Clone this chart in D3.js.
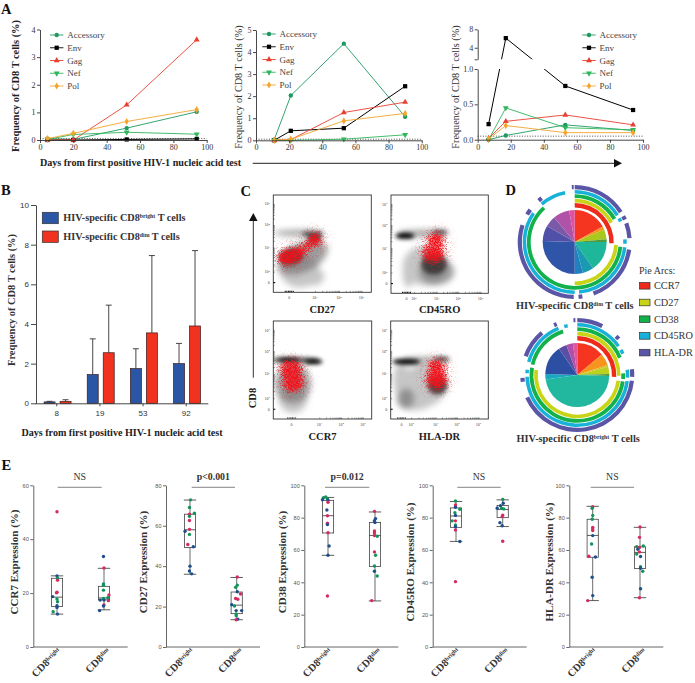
<!DOCTYPE html>
<html>
<head>
<meta charset="utf-8">
<script src="https://d3js.org/d3.v7.min.js"></script>
<style>
  html, body { margin: 0; padding: 0; background: #fff; }
  svg { display: block; }
  text { font-family: "Liberation Serif", serif; fill: #222; }
</style>
</head>
<body>
<script>
// --- panel A
var seriesNames = ["Accessory", "Env", "Gag", "Nef", "Pol"];
var daysA1 = [4.5, 20, 52, 94];
var daysA2 = [11, 21, 53, 90];
var daysA3 = [6.6, 17, 53, 94];
var valuesA1 = [
  [0.05, 0.02, 0.43, 1.02],
  [0, 0, 0.02, 0.04],
  [0, 0, 1.27, 3.63],
  [0.02, 0.2, 0.28, 0.21],
  [0.05, 0.24, 0.67, 1.1]
];
var valuesA2 = [
  [0.03, 2.03, 4.38, 1.07],
  [0, 0.43, 0.55, 2.45],
  [0, 0.03, 1.26, 1.73],
  [0, 0, 0.05, 0.25],
  [0, 0.05, 0.88, 1.22]
];
var valuesA3 = [
  [0, 0.06, 0.21, 0.13],
  [0.22, 6.1, 0.76, 0.42],
  [0.02, 0.26, 0.35, 0.21],
  [0, 0.45, 0.17, 0.14],
  [0.01, 0.2, 0.1, 0.1]
];

// --- panel B
var daysB = ["8", "19", "53", "92"];
var brightMean = [0.07, 1.45, 1.75, 2.0];
var brightUpper = [0.1, 3.25, 2.75, 3.02];
var dimMean = [0.1, 2.55, 3.55, 3.9];
var dimUpper = [0.18, 4.95, 7.45, 7.7];

// --- panel C, density blobs: x, y, rx, ry, tilt, tone (fractions of the plot frame)
var blobsCD27 = [
  [0.27, 0.22, 0.2, 0.17, 0, "light"], [0.4, 0.16, 0.12, 0.09, 0, "light"], [0.3, 0.36, 0.27, 0.15, -25, "mid"],
  [0.26, 0.61, 0.26, 0.03, 0, "mid"], [0.4, 0.6, 0.11, 0.025, 0, "dark"], [0.42, 0.56, 0.07, 0.05, 0, "dark"],
  [0.18, 0.37, 0.12, 0.08, -10, "dark"],
  [0.17, 0.366, 0.14, 0.09, -10, "red"], [0.3, 0.44, 0.1, 0.05, -30, "red"], [0.425, 0.54, 0.075, 0.085, 0, "red"]
];
var blobsCD45RO = [
  [0.18, 0.2, 0.06, 0.14, 0, "light"], [0.35, 0.28, 0.23, 0.2, 0, "light"], [0.47, 0.22, 0.18, 0.13, 0, "mid"],
  [0.33, 0.61, 0.26, 0.035, 0, "mid"], [0.5, 0.62, 0.08, 0.025, 0, "dark"], [0.144, 0.585, 0.1, 0.03, 0, "black"],
  [0.44, 0.3, 0.13, 0.11, 0, "dark"],
  [0.435, 0.4, 0.12, 0.1, 0, "red"], [0.46, 0.54, 0.1, 0.08, 0, "red"]
];
var blobsCCR7 = [
  [0.2, 0.2, 0.14, 0.14, 0, "light"], [0.2, 0.36, 0.18, 0.2, 0, "mid"],
  [0.22, 0.6, 0.25, 0.03, 0, "dark"], [0.41, 0.585, 0.09, 0.025, 0, "black"], [0.15, 0.605, 0.11, 0.018, 0, "black"],
  [0.2, 0.38, 0.12, 0.11, 0, "red"], [0.18, 0.52, 0.12, 0.085, 0, "red"]
];
var blobsHLADR = [
  [0.25, 0.2, 0.19, 0.11, 0, "light"], [0.35, 0.35, 0.22, 0.22, 0, "light"], [0.11, 0.4, 0.08, 0.18, 0, "light"],
  [0.16, 0.21, 0.08, 0.1, 0, "mid"], [0.36, 0.6, 0.24, 0.03, 0, "mid"], [0.52, 0.61, 0.08, 0.025, 0, "dark"],
  [0.16, 0.585, 0.14, 0.03, 0, "black"], [0.48, 0.34, 0.1, 0.09, 0, "dark"],
  [0.47, 0.4, 0.12, 0.1, 0, "red"], [0.47, 0.53, 0.1, 0.08, 0, "red"]
];

// --- panel D, slices in degrees and arcs as [from, to] degrees clockwise from the top
var sliceColors1 = ["#f5351f", "#f7941d", "#a8c81e", "#4f9a3c", "#1fb79a", "#1a9ab0", "#2080c0", "#2e55a8", "#5050a8", "#7a5aa8", "#b052a8", "#e0509f"];
var sliceValues1 = [61, 6, 18, 5, 55, 20, 15, 92, 28, 20, 30, 10];
var sliceColors2 = ["#f5351f", "#f7941d", "#d8c020", "#bcd020", "#4f9a3c", "#22b8a0", "#18a8c0", "#2d4fa3", "#5a4fa3", "#b24fa8", "#e2559f"];
var sliceValues2 = [50, 22, 3, 13, 4, 170, 10, 53, 15, 12, 8];
var arcNames = ["CCR7", "CD27", "CD38", "CD45RO", "HLA-DR"];
var arcs1 = [
  [[0, 92]],
  [[0, 62], [94, 180]],
  [[0, 60], [96, 318]],
  [[0, 58], [62, 66], [87, 92], [96, 175], [180, 305], [319, 349]],
  [[0, 57], [62, 66], [70, 86], [98, 160], [172, 176], [181, 288], [300, 306], [319, 323], [357, 359]]
];
var arcs2 = [
  [[0, 93]],
  [[0, 91], [98, 277]],
  [[0, 68], [88, 95], [98, 279], [283, 342]],
  [[0, 55], [60, 65], [84, 93], [97, 268], [272, 276], [285, 338], [345, 349]],
  [[0, 27], [45, 49], [84, 92], [96, 246], [263, 267], [290, 320], [335, 338], [356, 358]]
];

// --- panel E, boxes: whisker low, q1, median, q3, whisker high
var markers = ["CCR7", "CD27", "CD38", "CD45RO", "HLA-DR"];
var notes = ["NS", "p<0.001", "p=0.012", "NS", "NS"];
var domainsE = [60, 80, 100, 100, 100];
var ticksE = [[0, 20, 40, 60], [0, 20, 40, 60, 80], [0, 20, 40, 60, 80, 100], [0, 20, 40, 60, 80, 100], [0, 20, 40, 60, 80, 100]];
var boxesBright = [
  [12.2, 15, 18.5, 25.5, 26.4],
  [36, 49.2, 58, 65.7, 72.7],
  [56.7, 70.5, 81.2, 90.7, 92.5],
  [65.3, 74, 81, 86, 90],
  [28.7, 55.5, 69, 79, 87]
];
var boxesDim = [
  [13.8, 17.5, 18.2, 22.5, 29.2],
  [13.5, 16.5, 20.7, 27.2, 34.4],
  [28.5, 49.8, 69, 77, 83.5],
  [74.5, 80, 85, 87.5, 91],
  [30.5, 48.5, 58.5, 62, 74]
];
// points: jitter, value, donor group
var pointsBright = [
  [[0, 50.2, "r"], [0, 26.4, "b"], [0.1, 25.5, "g"], [0.1, 24.8, "r"], [0, 20.3, "r"], [-0.1, 20.1, "r"], [-0.8, 18.7, "b"], [0, 17.8, "g"], [0.1, 16.8, "g"], [0, 15.3, "b"], [0, 14.7, "b"], [-0.7, 13.1, "g"], [0.1, 12.2, "b"]],
  [[0.1, 72.8, "g"], [-0.1, 69, "g"], [0.8, 66.2, "g"], [-0.1, 65.7, "r"], [-0.1, 64.7, "g"], [-0.1, 62.6, "r"], [-0.1, 58.2, "r"], [-0.9, 57.3, "b"], [-0.1, 55.7, "g"], [-0.4, 50.7, "r"], [0.6, 49.6, "b"], [0, 40, "b"], [-0.1, 37.6, "b"], [0.3, 36.2, "b"]],
  [[-0.4, 92.8, "g"], [-0.8, 92.4, "g"], [-0.1, 91.5, "g"], [-1, 91.1, "b"], [0, 90.8, "b"], [0, 89.5, "r"], [-0.2, 84.7, "b"], [-0.1, 81.2, "r"], [-0.1, 76.5, "r"], [-0.1, 75.7, "b"], [0, 70.7, "r"], [0.2, 62.5, "b"], [0, 56.7, "b"], [-0.1, 31.5, "r"]],
  [[-0.1, 90.3, "g"], [-0.1, 87.8, "r"], [-0.1, 86.4, "b"], [0.7, 85.2, "g"], [-0.2, 83, "g"], [-0.1, 81.4, "b"], [-0.7, 78, "g"], [-0.1, 78, "r"], [-0.1, 75.5, "g"], [-0.1, 74.4, "b"], [-0.1, 72.4, "r"], [0.7, 65.2, "b"], [-0.1, 40.4, "r"]],
  [[0, 86.8, "r"], [-0.1, 85.8, "g"], [0, 81.4, "g"], [-0.1, 79, "g"], [0, 74, "r"], [0, 73, "r"], [0, 72, "r"], [0, 68.9, "b"], [-0.2, 63.7, "g"], [-0.7, 56.1, "r"], [0.5, 55.7, "b"], [-0.1, 43.1, "b"], [0, 31.8, "b"], [-0.9, 28.7, "r"]]
];
var pointsDim = [
  [[-0.1, 33.6, "b"], [0, 29.3, "r"], [-0.1, 23.4, "g"], [-0.1, 22.9, "g"], [-0.1, 21.1, "g"], [0.9, 19.3, "r"], [0.7, 18.3, "g"], [-0.1, 18, "g"], [-0.7, 17.4, "b"], [0, 17.4, "b"], [0.8, 17.2, "r"], [0, 15.6, "r"], [-0.1, 15.2, "b"], [-0.8, 13.5, "b"]],
  [[0.1, 34.6, "r"], [0.1, 30.6, "g"], [-0.2, 29.5, "g"], [0.1, 27.3, "b"], [0.7, 26.2, "r"], [-0.2, 24, "r"], [0.2, 23.6, "r"], [-0.9, 20.9, "b"], [-0.4, 20.3, "g"], [-0.1, 18, "b"], [0.9, 18, "b"], [-0.1, 16.3, "g"], [-0.1, 15.5, "g"], [0.2, 13.8, "b"], [-0.1, 13.5, "r"]],
  [[-0.1, 83.9, "r"], [0.1, 79.4, "b"], [-0.1, 78.1, "b"], [0, 77, "b"], [-0.1, 71.8, "r"], [-0.1, 70.5, "r"], [-0.1, 69, "r"], [0.4, 68.5, "g"], [-0.1, 58.8, "r"], [0.1, 56.7, "g"], [-0.1, 50.1, "g"], [-0.1, 46.8, "b"], [0.4, 43.9, "g"], [-0.6, 28.7, "r"]],
  [[0, 91.3, "g"], [0.1, 88.9, "b"], [-0.4, 87.4, "b"], [-1, 85.8, "b"], [-0.2, 85.8, "g"], [0.2, 85.4, "g"], [0, 81.5, "r"], [-0.1, 80.6, "r"], [-0.5, 76.9, "b"], [-0.1, 75, "b"], [0, 65.4, "r"]],
  [[0, 74.2, "r"], [-0.1, 67.8, "r"], [-0.6, 62, "g"], [0.6, 62.5, "g"], [-0.1, 61.6, "r"], [-0.4, 60.4, "b"], [-0.6, 57.5, "g"], [-0.1, 58.8, "r"], [0.1, 56, "b"], [0.1, 49.7, "g"], [0.1, 48.7, "b"], [0.5, 46.8, "g"], [0.1, 36, "b"], [-0.1, 30.5, "r"]]
];

var lineColors = { Accessory: "#1d9a60", Env: "#000", Gag: "#e8402f", Nef: "#2fb65c", Pol: "#f5a52c" };
var lineSymbols = { Accessory: d3.symbolCircle, Env: d3.symbolSquare, Gag: d3.symbolTriangle, Nef: d3.symbolTriangle, Pol: d3.symbolDiamond };
var arcColors = { "CCR7": "#ee2a1b", "CD27": "#c9d416", "CD38": "#12b14b", "CD45RO": "#18b1d8", "HLA-DR": "#5b55a5" };
var donorColors = { r: "#d52a5e", b: "#1f4e8c", g: "#12935a" };

var svg = d3.select("body").append("svg").
  attr("width", 695).
  attr("height", 683);

var defs = svg.append("defs");

function label(sel, str, x, y, size, opts) {
  opts = opts || {};
  return sel.append("text").
    attr("x", x).attr("y", y).
    attr("font-size", size).
    attr("text-anchor", opts.anchor || "middle").
    attr("font-weight", opts.bold ? "bold" : null).
    style("fill", opts.fill || "#222").
    attr("transform", opts.rotate ? "rotate(" + opts.rotate + " " + x + " " + y + ")" : null).
    text(str);
}

function sup(textSel, str, size, tail, tailSize) {
  textSel.append("tspan").attr("font-size", size).attr("dy", -size * 0.55).text(str);
  if (tail) textSel.append("tspan").attr("font-size", tailSize).attr("dy", size * 0.55).text(tail);
}

function styleAxis(g, color, fontSize, family) {
  g.selectAll("path,line").attr("stroke", color).attr("stroke-width", 0.9);
  g.selectAll("text").attr("font-size", fontSize).style("fill", color).style("font-family", family);
}

// ---------- A
function drawLines(g, days, values, x, y) {
  var line = d3.line().
    x(function(d) { return x(d[0]); }).
    y(function(d) { return y(d[1]); });
  values.forEach(function(vals, i) {
    var name = seriesNames[i];
    var pts = vals.map(function(v, j) { return [days[j], v]; });
    g.append("path").
      attr("d", line(pts)).
      attr("fill", "none").
      attr("stroke", lineColors[name]).
      attr("stroke-width", name === "Env" ? 1 : 0.9);
    g.selectAll(null).data(pts).enter().append("path").
      attr("d", d3.symbol().type(lineSymbols[name]).size(name === "Env" ? 18 : 15)).
      attr("fill", lineColors[name]).
      attr("transform", function(d) {
        return "translate(" + x(d[0]) + "," + y(d[1]) + ")" + (name === "Nef" ? " rotate(180)" : "");
      });
  });
}

function drawLegend(x0, yTop, step) {
  seriesNames.forEach(function(name, i) {
    var yy = yTop + i * step;
    svg.append("line").
      attr("x1", x0).attr("x2", x0 + 13.4).attr("y1", yy).attr("y2", yy).
      attr("stroke", lineColors[name]).attr("stroke-width", 0.9);
    svg.append("path").
      attr("d", d3.symbol().type(lineSymbols[name]).size(name === "Env" ? 18 : 15)).
      attr("fill", lineColors[name]).
      attr("transform", "translate(" + (x0 + 6.7) + "," + yy + ")" + (name === "Nef" ? " rotate(180)" : ""));
    label(svg, name, x0 + 17.3, yy + 3, 9, { anchor: "start", fill: "#444" });
  });
}

function dotted(xa, xb, yy) {
  svg.append("line").
    attr("x1", xa).attr("x2", xb).attr("y1", yy).attr("y2", yy).
    attr("stroke", "#222").attr("stroke-width", 0.8).attr("stroke-dasharray", "1,1.6");
}

function chartA(left, right, top, bottom, maxY, yTicks, days, values) {
  var x = d3.scaleLinear().domain([0, 100]).range([left, right]);
  var y = d3.scaleLinear().domain([0, maxY]).range([bottom, top]);
  dotted(left, right, y(0.05));
  drawLines(svg.append("g"), days, values, x, y);
  var gx = svg.append("g").attr("transform", "translate(0," + bottom + ")").
    call(d3.axisBottom(x).tickValues([0, 20, 40, 60, 80, 100]).tickSize(3).tickSizeOuter(0).tickPadding(1.5));
  styleAxis(gx, "#333", 8, "Liberation Serif");
  var gy = svg.append("g").attr("transform", "translate(" + left + ",0)").
    call(d3.axisLeft(y).tickValues(yTicks).tickSize(3).tickSizeOuter(0).tickPadding(1.5).tickFormat(d3.format("d")));
  styleAxis(gy, "#333", 8, "Liberation Serif");
}

chartA(40, 206.7, 29.5, 140, 4, [0, 1, 2, 3, 4], daysA1, valuesA1);
chartA(256, 421.7, 30, 140.3, 5, [0, 1, 2, 3, 4, 5], daysA2, valuesA2);
drawLegend(50, 35, 12.75);
drawLegend(262.3, 34, 12.75);

// A3 has a broken y axis
var xA3 = d3.scaleLinear().domain([0, 100]).range([477.7, 643]);
var yA3 = d3.scaleLinear().domain([0, 1, 1.5, 8]).range([139.7, 69, 59.3, 29.3]);
defs.append("clipPath").attr("id", "a3low").append("rect").attr("x", 470).attr("y", 69).attr("width", 190).attr("height", 80);
defs.append("clipPath").attr("id", "a3high").append("rect").attr("x", 470).attr("y", 20).attr("width", 190).attr("height", 39.3);
dotted(477.7, 643, yA3(0.05));
drawLines(svg.append("g").attr("clip-path", "url(#a3low)"), daysA3, valuesA3, xA3, yA3);
drawLines(svg.append("g").attr("clip-path", "url(#a3high)"), daysA3, valuesA3, xA3, yA3);
var gxA3 = svg.append("g").attr("transform", "translate(0,139.7)").
  call(d3.axisBottom(xA3).tickValues([0, 20, 40, 60, 80, 100]).tickSize(3).tickSizeOuter(0).tickPadding(1.5));
styleAxis(gxA3, "#333", 8, "Liberation Serif");
var yA3low = d3.scaleLinear().domain([0, 1]).range([139.7, 69]);
var yA3high = d3.scaleLinear().domain([1.5, 8]).range([59.3, 29.3]);
var gyA3a = svg.append("g").attr("transform", "translate(477.7,0)").
  call(d3.axisLeft(yA3low).tickValues([0, 0.5, 1]).tickSize(3).tickSizeOuter(0).tickPadding(1.5).tickFormat(d3.format(".1f")));
styleAxis(gyA3a, "#333", 8, "Liberation Serif");
var gyA3b = svg.append("g").attr("transform", "translate(477.7,0)").
  call(d3.axisLeft(yA3high).tickValues([1.5, 4, 8]).tickSize(3).tickSizeOuter(0).tickPadding(1.5).tickFormat(function(d) { return d === 1.5 ? "" : d; }));
styleAxis(gyA3b, "#333", 8, "Liberation Serif");
drawLegend(582.3, 35, 12.75);

label(svg, "Frequency of CD8 T cells (%)", 19, 86, 10.4, { rotate: -90, bold: true });
label(svg, "Frequency of CD8 T cells (%)", 241.5, 87, 10.2, { rotate: -90, fill: "#333" });
label(svg, "Frequency of CD8 T cells (%)", 458.5, 87, 10.2, { rotate: -90, fill: "#333" });
label(svg, "Days from first positive HIV-1 nucleic acid test", 140.5, 166, 10.1, { bold: true });

svg.append("line").attr("x1", 252.7).attr("x2", 615).attr("y1", 163.3).attr("y2", 163.3).attr("stroke", "#222").attr("stroke-width", 1);
svg.append("path").attr("d", d3.line()([[614, 159], [622, 163.3], [614, 167.5]])).attr("fill", "#111");

// ---------- B
var xB = d3.scaleBand().domain(daysB).range([35.2, 207.8]).paddingInner(0).paddingOuter(0);
var yB = d3.scaleLinear().domain([0, 10]).range([403.3, 205]);
var gB = svg.append("g");

function bars(mean, upper, color, shift) {
  var w = 11;
  var cx = function(i) { return xB(daysB[i]) + xB.bandwidth() / 2 + shift; };
  gB.selectAll(null).data(upper).enter().append("line").
    attr("x1", function(d, i) { return cx(i); }).
    attr("x2", function(d, i) { return cx(i); }).
    attr("y1", function(d, i) { return yB(mean[i]); }).
    attr("y2", function(d) { return yB(d); }).
    attr("stroke", "#333").attr("stroke-width", 0.9);
  gB.selectAll(null).data(upper).enter().append("line").
    attr("x1", function(d, i) { return cx(i) - 3; }).
    attr("x2", function(d, i) { return cx(i) + 3; }).
    attr("y1", function(d) { return yB(d); }).
    attr("y2", function(d) { return yB(d); }).
    attr("stroke", "#333").attr("stroke-width", 0.9);
  gB.selectAll(null).data(mean).enter().append("rect").
    attr("x", function(d, i) { return cx(i) - w / 2; }).
    attr("width", w).
    attr("y", function(d) { return yB(d); }).
    attr("height", function(d) { return yB(0) - yB(d); }).
    attr("fill", color).
    attr("stroke", "#3a1c1c").attr("stroke-width", 0.7);
}
bars(brightMean, brightUpper, "#2b55a5", -7.2);
bars(dimMean, dimUpper, "#f0321e", 8.8);

var gxB = svg.append("g").attr("transform", "translate(0,403.3)").
  call(d3.axisBottom(xB).tickSize(3).tickSizeOuter(0).tickPadding(4));
styleAxis(gxB, "#333", 8, "Liberation Sans");
var gyB = svg.append("g").attr("transform", "translate(36,0)").
  call(d3.axisLeft(yB).tickValues([0, 2, 4, 6, 8, 10]).tickSize(5).tickSizeOuter(0).tickPadding(2));
styleAxis(gyB, "#333", 8, "Liberation Sans");
label(svg, "Frequency of CD8 T cells (%)", 14.5, 300, 10.4, { rotate: -90, bold: true, fill: "#333" });
label(svg, "Days from first positive HIV-1 nucleic acid test", 122, 436, 10.1, { bold: true });

[["bright", "#2b55a5", 212.3], ["dim", "#f0321e", 231]].forEach(function(row) {
  svg.append("rect").attr("x", 42.3).attr("y", row[2]).attr("width", 16).attr("height", 11.4).
    attr("fill", row[1]).attr("stroke", "#333").attr("stroke-width", 0.7);
  var t = label(svg, "HIV-specific CD8", 63.3, row[2] + 9, 10.2, { anchor: "start", bold: true, fill: "#333" });
  sup(t, row[0], 5.8, " T cells", 10.2);
});

// ---------- C
var grain = defs.append("filter").attr("id", "grain").
  attr("x", "-50%").attr("y", "-50%").attr("width", "200%").attr("height", "200%").
  attr("color-interpolation-filters", "sRGB");
grain.append("feGaussianBlur").attr("in", "SourceGraphic").attr("stdDeviation", 3.5).attr("result", "b");
grain.append("feGaussianBlur").attr("in", "SourceGraphic").attr("stdDeviation", 7).attr("result", "wide");
grain.append("feTurbulence").attr("type", "fractalNoise").attr("baseFrequency", 2.2).attr("numOctaves", 1).attr("seed", 7).attr("result", "t");
grain.append("feColorMatrix").attr("in", "t").attr("type", "matrix").
  attr("values", "0 0 0 0 0.8  0 0 0 0 0.15  0 0 0 0 0.2  9 0 0 0 -4.9").attr("result", "sparse");
grain.append("feColorMatrix").attr("in", "t").attr("type", "matrix").
  attr("values", "0 0 0 0 0.95  0 0 0 0 0.08  0 0 0 0 0.1  6 0 0 0 -2.2").attr("result", "dense");
var wideAlpha = grain.append("feComponentTransfer").attr("in", "wide").attr("result", "wideA");
wideAlpha.append("feFuncA").attr("type", "linear").attr("slope", 1.6).attr("intercept", 0);
grain.append("feComposite").attr("in", "sparse").attr("in2", "wideA").attr("operator", "in").attr("result", "halo");
var midAlpha = grain.append("feComponentTransfer").attr("in", "b").attr("result", "midA");
midAlpha.append("feFuncA").attr("type", "linear").attr("slope", 1.3).attr("intercept", -0.25);
grain.append("feComposite").attr("in", "dense").attr("in2", "midA").attr("operator", "in").attr("result", "speck");
var coreTransfer = grain.append("feComponentTransfer").attr("in", "b").attr("result", "core");
coreTransfer.append("feFuncA").attr("type", "linear").attr("slope", 1.5).attr("intercept", -0.8);
var grainMerge = grain.append("feMerge");
grainMerge.append("feMergeNode").attr("in", "halo");
grainMerge.append("feMergeNode").attr("in", "speck");
grainMerge.append("feMergeNode").attr("in", "core");

[["soft", 3.2], ["tight", 2]].forEach(function(f) {
  defs.append("filter").attr("id", f[0]).
    attr("x", "-60%").attr("y", "-100%").attr("width", "220%").attr("height", "300%").
    append("feGaussianBlur").attr("stdDeviation", f[1]);
});

var tones = {
  light: { fill: "#bcbcbc", op: 0.85, filter: "soft" },
  mid: { fill: "#777", op: 0.7, filter: "soft" },
  dark: { fill: "#2c2c2c", op: 0.8, filter: "tight" },
  black: { fill: "#000", op: 1, filter: "tight" },
  red: { fill: "#f0141e", op: 1, filter: "grain" }
};
var logTicks = [];
[2, 3, 4].forEach(function(dec) {
  d3.range(1, 10).forEach(function(m) { logTicks.push(dec + Math.log10(m)); });
});
logTicks.push(5);

function flowPanel(id, left, top, w, h, blobs, xStops, xLabels, name, nameY) {
  defs.append("clipPath").attr("id", "clip" + id).append("rect").attr("x", left).attr("y", top).attr("width", w).attr("height", h);
  var fx = d3.scaleLinear().domain([0, 1]).range([left, left + w]);
  var fy = d3.scaleLinear().domain([0, 1]).range([top + h, top]);
  var g = svg.append("g").attr("clip-path", "url(#clip" + id + ")");

  ["light", "mid", "dark", "black", "red"].forEach(function(tone) {
    var layer = g.append("g").attr("filter", "url(#" + tones[tone].filter + ")").attr("opacity", tones[tone].op);
    layer.selectAll("ellipse").
      data(blobs.filter(function(b) { return b[5] === tone; })).
      enter().append("ellipse").
      attr("cx", function(b) { return fx(b[0]); }).
      attr("cy", function(b) { return fy(b[1]); }).
      attr("rx", function(b) { return b[2] * w; }).
      attr("ry", function(b) { return b[3] * h; }).
      attr("fill", tones[tone].fill).
      attr("transform", function(b) { return "rotate(" + b[4] + " " + fx(b[0]) + " " + fy(b[1]) + ")"; });
  });

  svg.append("rect").attr("x", left).attr("y", top).attr("width", w).attr("height", h).
    attr("fill", "none").attr("stroke", "#333").attr("stroke-width", 0.9);

  var yLog = d3.scaleLinear().domain([0, 2, 3, 4, 5]).range([0.1, 0.212, 0.459, 0.692, 0.907].map(fy));
  var xLog = d3.scaleLinear().domain(xStops[0]).range(xStops[1].map(fx));

  var ax = svg.append("g").attr("transform", "translate(" + left + ",0)").
    call(d3.axisLeft(yLog).tickValues(logTicks.concat([0])).tickSizeInner(-1.5).tickSizeOuter(0).tickFormat(""));
  ax.select("path").remove();
  ax.selectAll("line").attr("stroke", "#333").attr("stroke-width", 0.5);

  var bx = svg.append("g").attr("transform", "translate(0," + (top + h) + ")").
    call(d3.axisBottom(xLog).tickValues(logTicks.filter(function(d) { return d >= xStops[0][1]; }).concat([0])).tickSizeInner(-1.5).tickSizeOuter(0).tickFormat(""));
  bx.select("path").remove();
  bx.selectAll("line").attr("stroke", "#333").attr("stroke-width", 0.5);

  // the dense cluster near zero on the x axis
  svg.append("line").
    attr("x1", xLog(0) - 4.5).attr("x2", xLog(0) + 5).
    attr("y1", top + h - 1).attr("y2", top + h - 1).
    attr("stroke", "#111").attr("stroke-width", 1.2).attr("stroke-dasharray", "1,0.6");
  svg.append("line").
    attr("x1", left).attr("x2", left + 2).
    attr("y1", yLog(0)).attr("y2", yLog(0)).
    attr("stroke", "#111").attr("stroke-width", 1);

  [[0, "0"], [2, "10"], [3, "10"], [4, "10"], [5, "10"]].forEach(function(t) {
    var lab = label(svg, t[1], left - 3.5, yLog(t[0]) + 1.4, 4, { anchor: "end", fill: "#444" });
    if (t[0] > 0) lab.append("tspan").attr("font-size", 2.8).attr("dy", -1.2).text(t[0]);
  });
  xLabels.forEach(function(dec) {
    var lab = label(svg, dec === 0 ? "0" : "10", xLog(dec), top + h + 6.5, 4, { fill: "#444" });
    if (dec > 0) lab.append("tspan").attr("font-size", 2.8).attr("dy", -1.2).text(dec);
  });
  label(svg, name, left + w / 2, nameY, 10.5, { bold: true, fill: "#222" });
}

flowPanel("a", 273.3, 195, 98, 97.3, blobsCD27, [[0, 3, 4, 5], [0.163, 0.425, 0.67, 0.9]], [0, 3, 4, 5], "CD27", 312.5);
flowPanel("b", 391, 195, 97.3, 98.3, blobsCD45RO, [[0, 2, 3, 4, 5], [0.16, 0.236, 0.47, 0.69, 0.92]], [0, 2, 3, 4, 5], "CD45RO", 312.5);
flowPanel("c", 273.3, 321, 98.4, 98, blobsCCR7, [[0, 3, 4, 5], [0.186, 0.468, 0.69, 0.91]], [0, 3, 4, 5], "CCR7", 439.5);
flowPanel("d", 390.7, 321, 97.6, 98, blobsHLADR, [[0, 2, 3, 4, 5], [0.11, 0.21, 0.46, 0.68, 0.9]], [0, 2, 3, 4, 5], "HLA-DR", 439.5);

svg.append("line").attr("x1", 253.3).attr("x2", 253.3).attr("y1", 377.7).attr("y2", 218).attr("stroke", "#333").attr("stroke-width", 1);
svg.append("path").attr("d", d3.line()([[249, 221], [253.3, 213], [257.6, 221]])).attr("fill", "#111");
label(svg, "CD8", 255.5, 398, 10.5, { rotate: -90, bold: true, fill: "#222" });

// ---------- D
var rings = { "CCR7": [34.6, 39], "CD27": [39.6, 43.3], "CD38": [44, 47.8], "CD45RO": [48.5, 52], "HLA-DR": [52.8, 57] };
var toRad = d3.scaleLinear().domain([0, 360]).range([0, 2 * Math.PI]);

function drawPie(cx, cy, values, colors, arcsByMarker) {
  var g = svg.append("g").attr("transform", "translate(" + cx + "," + cy + ")");
  var slice = d3.arc().innerRadius(0).outerRadius(32);
  g.selectAll("path.slice").
    data(d3.pie().sort(null)(values)).
    enter().append("path").
    attr("class", "slice").
    attr("d", slice).
    attr("fill", function(d, i) { return colors[i]; });
  arcNames.forEach(function(name, i) {
    var ring = d3.arc().innerRadius(rings[name][0]).outerRadius(rings[name][1]);
    g.selectAll(null).
      data(arcsByMarker[i]).
      enter().append("path").
      attr("d", function(d) { return ring({ startAngle: toRad(d[0]), endAngle: toRad(d[1]) }); }).
      attr("fill", arcColors[name]);
  });
}
drawPie(574.7, 242, sliceValues1, sliceColors1, arcs1);
drawPie(577.3, 375, sliceValues2, sliceColors2, arcs2);

var t1 = label(svg, "HIV-specific CD8", 516, 309, 10.3, { anchor: "start", bold: true, fill: "#333" });
sup(t1, "dim", 5.8, " T cells", 10.3);
var t2 = label(svg, "HIV-specific CD8", 516.5, 442, 10.3, { anchor: "start", bold: true, fill: "#333" });
sup(t2, "bright", 5.8, " T cells", 10.3);

label(svg, "Pie Arcs:", 639, 274, 10, { anchor: "start", fill: "#333" });
arcNames.forEach(function(name, i) {
  var yy = 285.8 + i * 16.7;
  svg.append("rect").attr("x", 639.5).attr("y", yy - 3.3).attr("width", 10.5).attr("height", 6.6).
    attr("fill", arcColors[name]).attr("stroke", "#333").attr("stroke-width", 0.7);
  label(svg, name, 654, yy + 3.4, 10.3, { anchor: "start", fill: "#333" });
});

// ---------- E
var panelsE = [
  { left: 33.3, right: 127.7, bright: 57, dim: 104, sig: [57.7, 101.7], title: 17.8 },
  { left: 166, right: 260, bright: 190, dim: 236.7, sig: [191.7, 235], title: 146.8 },
  { left: 304.3, right: 398.3, bright: 328, dim: 375, sig: [325, 369.3], title: 285.8 },
  { left: 432.7, right: 526.7, bright: 456, dim: 502.7, sig: [457.3, 500.7], title: 414.2 },
  { left: 569.3, right: 663.3, bright: 592.7, dim: 640, sig: [590.7, 634], title: 552.8 }
];
var jitter = d3.scaleLinear().domain([-1, 1]).range([-5.5, 5.5]);

function drawBox(g, cx, box, pts, y) {
  var w = 5.6;
  g.append("line").attr("x1", cx).attr("x2", cx).attr("y1", y(box[0])).attr("y2", y(box[4])).attr("stroke", "#444").attr("stroke-width", 0.8);
  g.selectAll(null).data([box[0], box[4]]).enter().append("line").
    attr("x1", cx - w - 0.6).attr("x2", cx + w + 0.6).
    attr("y1", y).attr("y2", y).
    attr("stroke", "#333").attr("stroke-width", 0.8);
  g.append("rect").attr("x", cx - w).attr("width", 2 * w).attr("y", y(box[3])).attr("height", y(box[1]) - y(box[3])).
    attr("fill", "#fff").attr("stroke", "#444").attr("stroke-width", 0.8);
  g.append("line").attr("x1", cx - w).attr("x2", cx + w).attr("y1", y(box[2])).attr("y2", y(box[2])).attr("stroke", "#333").attr("stroke-width", 0.8);
  g.selectAll("circle.p" + Math.round(cx)).data(pts).enter().append("circle").
    attr("cx", function(d) { return cx + jitter(d[0]); }).
    attr("cy", function(d) { return y(d[1]); }).
    attr("r", 1.7).
    attr("fill", function(d) { return donorColors[d[2]]; });
}

markers.forEach(function(name, i) {
  var p = panelsE[i];
  var y = d3.scaleLinear().domain([0, domainsE[i]]).range([647, 485.3]);
  var g = svg.append("g");
  var gy = g.append("g").attr("transform", "translate(" + p.left + ",0)").
    call(d3.axisLeft(y).tickValues(ticksE[i]).tickSize(3).tickSizeOuter(0).tickPadding(1.5));
  styleAxis(gy, "#555", 5.6, "Liberation Sans");
  g.append("line").attr("x1", p.left).attr("x2", p.right).attr("y1", 647).attr("y2", 647).attr("stroke", "#666").attr("stroke-width", 1);
  drawBox(g, p.bright, boxesBright[i], pointsBright[i], y);
  drawBox(g, p.dim, boxesDim[i], pointsDim[i], y);
  g.append("line").attr("x1", p.sig[0]).attr("x2", p.sig[1]).attr("y1", 487.3).attr("y2", 487.3).attr("stroke", "#666").attr("stroke-width", 0.8);
  label(g, notes[i], (p.sig[0] + p.sig[1]) / 2, 480, 9.8, { bold: i === 1 || i === 2, fill: "#333" });
  label(g, name + " Expression (%)", p.title, 562, 11, { rotate: -90, bold: true, fill: "#333" });
  [[p.bright + 4.5, "bright"], [p.dim + 7, "dim"]].forEach(function(c) {
    var t = label(g, "CD8", c[0], 652, 10.5, { anchor: "end", bold: true, rotate: -45, fill: "#333" });
    t.append("tspan").attr("font-size", 6).attr("dy", -3).text(c[1]);
  });
});

// panel letters
[["A", 1, 14], ["B", 1, 195], ["C", 240.5, 196], ["D", 505.5, 195], ["E", 1.5, 470]].forEach(function(l) {
  label(svg, l[0], l[1], l[2], 14.5, { anchor: "start", bold: true, fill: "#111" });
});
</script>
</body>
</html>
